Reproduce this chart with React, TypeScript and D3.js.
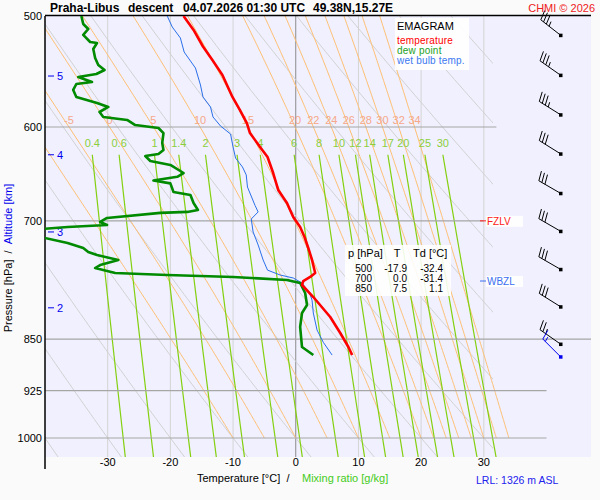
import React from "react";
import * as d3 from "d3";

// sounding: [pressure hPa, value °C]
const temperature: [number, number][] = [
  [500, -17.9], [511.6, -16.3], [525.7, -14.8], [537.5, -13.3], [550.9, -11.7],
  [571.1, -10.1], [583.5, -8.9], [596.1, -7.8], [606.0, -7.3], [620.0, -5.7],
  [630.3, -4.5], [647.1, -3.6], [665.4, -2.8], [679.8, -1.4], [695.6, -0.4],
  [707.1, 0.7], [718.8, 1.4], [731.9, 2.0], [746.5, 2.6], [762.6, 3.1],
  [767.6, 2.3], [772.7, 1.2], [777.8, 1.0], [793.3, 2.8], [819.8, 5.5],
  [841.6, 7.1], [861.2, 8.4], [872.6, 9.0],
];

const dewPoint: [number, number][] = [
  [500, -34.2], [506.6, -33.9], [510.8, -33.1], [515.8, -33.9], [521.8, -32.8],
  [522.7, -31.7], [527.9, -32.3], [535.7, -32.0], [541.9, -31.5], [546.4, -30.5],
  [550.0, -31.8], [552.7, -34.7], [557.3, -32.5], [559.1, -35.0], [564.6, -35.5],
  [571.1, -35.0], [576.8, -31.7], [580.6, -29.9], [585.4, -31.3], [590.2, -30.7],
  [593.1, -26.9], [598.1, -25.6], [601.0, -21.9], [606.0, -21.1], [616.0, -21.3],
  [623.1, -21.1], [627.2, -21.9], [629.3, -24.0], [634.5, -23.2], [638.6, -20.0],
  [647.1, -17.9], [651.1, -18.9], [655.1, -22.7], [658.2, -20.0], [667.6, -19.5],
  [670.9, -16.8], [679.8, -16.3], [687.6, -15.6], [689.8, -17.3], [690.9, -21.6],
  [696.7, -30.1], [701.3, -31.2], [704.8, -30.1], [707.1, -36.4], [709.5, -40.7],
  [718.8, -40.7], [725.9, -36.4], [731.9, -33.9], [736.8, -33.1], [740.5, -31.7],
  [746.5, -28.3], [752.7, -31.2], [756.5, -32.0], [762.6, -28.8], [765.1, -20.5],
  [767.6, -10.0], [771.4, -1.4], [775.2, 0.7], [788.1, 1.5], [803.8, 1.8],
  [814.4, 1.0], [833.3, 0.7], [861.2, 1.0], [872.6, 2.8],
];

const wetBulb: [number, number][] = [
  [500, -20.5], [509.1, -19.7], [518.4, -18.4], [530.5, -17.8], [544.6, -16.0],
  [560.0, -15.2], [571.1, -14.8], [580.6, -13.6], [590.2, -13.2], [599.0, -12.0],
  [607.0, -10.4], [620.0, -10.0], [631.4, -9.6], [640.7, -8.5], [649.1, -7.9],
  [662.2, -7.7], [682.4, -6.5], [689.8, -6.0], [697.9, -7.1], [712.9, -6.8],
  [728.2, -6.0], [746.5, -5.2], [759.0, -4.5], [765.1, -2.5], [768.9, -0.4],
  [775.2, 1.0], [788.1, 2.2], [797.3, 2.6], [814.4, 2.8], [837.5, 3.4],
  [854.6, 4.4], [872.6, 5.8],
];

const isobars = [500, 600, 700, 850, 925, 1000];
const isotherms = [-30, -20, -10, 0, 10, 20, 30];
const dryAdiabatsT1000 = [-40, -30, -20, -10, 0, 10, 20, 30, 40, 50, 60, 70, 80, 90, 100, 110, 120];
const moistAdiabatsThw = [-10, -5, 0, 5, 10, 15, 20, 22, 24, 26, 28, 30, 32, 34];
const mixingRatios = [0.4, 0.6, 1, 1.4, 2, 3, 4, 6, 8, 10, 12, 14, 17, 20, 25, 30];

const altitudeKm = [2, 3, 4, 5];
const altitudeP = [807.5, 712.9, 628.0, 551.8];

const windP = [516, 551, 588, 627, 669, 712, 758, 806, 857, 875];
const windDir = [308, 305, 302, 302, 300, 300, 300, 302, 305, 315];
const windKt = [35, 35, 35, 30, 30, 30, 30, 30, 25, 15];

const tableP = [500, 700, 850];
const tableT = [-17.9, 0.0, 7.5];
const tableTd = [-32.4, -31.4, 1.1];

const freezingLevelP = 700;
const wetBulbZeroP = 772.7;

const FONT = "Liberation Sans, Arial, sans-serif";
const MIX_TOP_P = 628;

// pseudo-adiabatic lapse rate, K per hPa
function moistLapse(p: number, T: number) {
  const Tc = T - 273.15;
  const es = 6.112 * Math.exp((17.67 * Tc) / (Tc + 243.5));
  const rs = (0.622 * es) / (p - es);
  const Lv = 2.501e6;
  return ((287 * T + Lv * rs) / (1005 + (Lv * Lv * rs * 0.622) / (287 * T * T))) / p;
}

function moistAdiabat(thw: number): [number, number][] {
  const pts: [number, number][] = [];
  let T = thw + 273.15;
  let p = 1000;
  const dp = -2;
  pts.push([p, thw]);
  while (p > 480) {
    const k1 = moistLapse(p, T);
    const k2 = moistLapse(p + dp / 2, T + (k1 * dp) / 2);
    T += k2 * dp;
    p += dp;
    pts.push([p, T - 273.15]);
  }
  return pts;
}

function dryAdiabat(t1000: number): [number, number][] {
  const theta = t1000 + 273.15;
  const pts: [number, number][] = [];
  for (let p = 480; p <= 1040; p += 5) pts.push([p, theta * Math.pow(p / 1000, 0.2857) - 273.15]);
  return pts;
}

function mixingTemp(w: number, p: number) {
  const e = (w * p) / (622 + w);
  const l = Math.log(e / 6.112);
  return (243.5 * l) / (17.67 - l);
}

function mixingLine(w: number): [number, number][] {
  const pts: [number, number][] = [];
  for (let p = MIX_TOP_P; p <= 1040; p += 10) pts.push([p, mixingTemp(w, p)]);
  return pts;
}

export default function App() {
  const left = 45, right = 591, top = 16, bottom = 457;
  const x = d3.scaleLinear().domain([-40, 47.1]).range([left, right]);
  const y = d3.scaleLog().domain([500, 1031.7]).range([top, bottom]);
  const line = d3
    .line<[number, number]>()
    .x((d) => x(d[1]))
    .y((d) => y(d[0]));

  const isobarEnd: Record<number, number> = { 600: 32, 700: 30, 850: 47.1, 925: 40, 1000: 40 };

  const barbs = windP.map((p, i) => {
    const cx = 560.5, cy = y(p);
    const a = (windDir[i] * Math.PI) / 180;
    const ux = Math.sin(a), uy = -Math.cos(a);
    const L = 25;
    const ex = cx + ux * L, ey = cy + uy * L;
    const r = (75 * Math.PI) / 180;
    const fx = ux * Math.cos(r) - uy * Math.sin(r);
    const fy = ux * Math.sin(r) + uy * Math.cos(r);
    let kt = windKt[i];
    const segs: string[] = [`M${cx},${cy}L${ex},${ey}`];
    let k = 0;
    while (kt >= 10) {
      const bx = ex - ux * k * 3.5, by = ey - uy * k * 3.5;
      segs.push(`M${bx},${by}L${bx + fx * 10},${by + fy * 10}`);
      kt -= 10;
      k++;
    }
    if (kt >= 5) {
      const bx = ex - ux * k * 3.5, by = ey - uy * k * 3.5;
      segs.push(`M${bx},${by}L${bx + fx * 5},${by + fy * 5}`);
    }
    const color = i === windP.length - 1 ? "#0000ee" : "#000";
    return { d: segs.join(""), cx, cy, color };
  });

  return (
    <svg
      width={600}
      height={500}
      style={{ position: "absolute", left: 0, top: 0, display: "block" }}
      fontFamily={FONT}
    >
      <defs>
        <clipPath id="plot">
          <rect x={left} y={top} width={right - left} height={bottom - top} />
        </clipPath>
        <clipPath id="dry">
          <rect x={left} y={top} width={493 - left} height={bottom - top} />
        </clipPath>
      </defs>
      <rect x={0} y={0} width={600} height={500} fill="#fafafa" />
      <rect x={left} y={top} width={right - left} height={bottom - top} fill="#f0f0ff" />

      {/* isotherms */}
      {isotherms.map((t) => (
        <line
          key={t}
          x1={x(t)}
          x2={x(t)}
          y1={top}
          y2={bottom}
          stroke={t === 0 ? "#8c8c8c" : "#d4d4d4"}
          strokeWidth={1}
        />
      ))}

      {/* dry adiabats */}
      <g clipPath="url(#dry)">
        {dryAdiabatsT1000.map((t) => (
          <path key={t} d={line(dryAdiabat(t)) || ""} fill="none" stroke="#d2d2d2" strokeWidth={1} />
        ))}
      </g>

      {/* moist adiabats */}
      <g clipPath="url(#plot)">
        {moistAdiabatsThw.map((t) => (
          <path key={t} d={line(moistAdiabat(t)) || ""} fill="none" stroke="#ffbf70" strokeWidth={1} />
        ))}
      </g>

      {/* mixing ratio lines */}
      <g clipPath="url(#plot)">
        {mixingRatios.map((w) => (
          <path key={w} d={line(mixingLine(w)) || ""} fill="none" stroke="#84d010" strokeWidth={1.2} />
        ))}
      </g>

      {/* isobars */}
      {isobars.slice(1).map((p) => (
        <line key={p} x1={left} x2={x(isobarEnd[p])} y1={y(p)} y2={y(p)} stroke="#a6a6a6" strokeWidth={1.2} />
      ))}
      <line x1={left} x2={right} y1={top - 0.5} y2={top - 0.5} stroke="#000" strokeWidth={1.5} />
      <line x1={left} x2={left} y1={top} y2={469} stroke="#000" strokeWidth={1.5} />

      {/* moist adiabat labels at 600 hPa */}
      {moistAdiabatsThw.map((t) => {
        const pts = moistAdiabat(t);
        const at600 = pts.find((d) => d[0] <= 600) || pts[pts.length - 1];
        const xx = x(at600[1]);
        if (xx < 55) return null;
        return (
          <text key={t} x={xx} y={124} fontSize={11} fill="#f6a888" textAnchor="middle">
            {t}
          </text>
        );
      })}

      {/* mixing ratio labels */}
      {mixingRatios.map((w) => (
        <text key={w} x={x(mixingTemp(w, MIX_TOP_P))} y={147} fontSize={11} fill="#8ccf3a" textAnchor="middle">
          {w}
        </text>
      ))}

      {/* pressure labels */}
      {isobars.map((p) => (
        <text key={p} x={42} y={y(p) + 4} fontSize={11} fill="#000" textAnchor="end">
          {p}
        </text>
      ))}

      {/* altitude ticks */}
      {altitudeKm.map((km, i) => (
        <g key={km}>
          <line x1={48} x2={54} y1={y(altitudeP[i])} y2={y(altitudeP[i])} stroke="#0000ee" strokeWidth={1} />
          <text x={57} y={y(altitudeP[i]) + 4} fontSize={11} fill="#0000ee">
            {km}
          </text>
        </g>
      ))}

      {/* temperature labels */}
      {isotherms.map((t) => (
        <text key={t} x={x(t)} y={466} fontSize={11} fill="#000" textAnchor="middle">
          {t}
        </text>
      ))}

      {/* legend */}
      <rect x={395} y={18} width={74} height={52} fill="#fff" opacity={0.9} />
      <text x={397} y={30} fontSize={11} fill="#000">EMAGRAM</text>
      <text x={397} y={44} fontSize={10} fill="#ff0000" letterSpacing={0.2}>temperature</text>
      <text x={397} y={54} fontSize={10} fill="#22a022" letterSpacing={0.2}>dew point</text>
      <text x={397} y={64} fontSize={10} fill="#3a78f0" letterSpacing={0.2}>wet bulb temp.</text>

      {/* table */}
      <rect x={345} y={245} width={106} height={51} fill="#fff" opacity={0.88} />
      <text x={348} y={257} fontSize={11}>p [hPa]</text>
      <text x={397} y={257} fontSize={11} textAnchor="middle">T</text>
      <text x={413} y={257} fontSize={11}>Td [°C]</text>
      {tableP.map((p, i) => (
        <g key={p} fontSize={10}>
          <text x={372} y={272 + i * 10} textAnchor="end">{p}</text>
          <text x={407} y={272 + i * 10} textAnchor="end">{tableT[i].toFixed(1)}</text>
          <text x={443} y={272 + i * 10} textAnchor="end">{tableTd[i].toFixed(1)}</text>
        </g>
      ))}

      {/* freezing level / wet bulb zero */}
      <rect x={486} y={y(freezingLevelP) - 5} width={37} height={11} fill="#fff" opacity={0.9} />
      <line x1={480} x2={486} y1={y(freezingLevelP)} y2={y(freezingLevelP)} stroke="#ff2020" />
      <text x={487} y={y(freezingLevelP) + 4} fontSize={10} fill="#ff2020">FZLV</text>
      <rect x={486} y={y(wetBulbZeroP) - 5} width={37} height={11} fill="#fff" opacity={0.9} />
      <line x1={480} x2={486} y1={y(wetBulbZeroP)} y2={y(wetBulbZeroP)} stroke="#3a6ff0" />
      <text x={487} y={y(wetBulbZeroP) + 4} fontSize={10} fill="#3a6ff0">WBZL</text>

      {/* profiles */}
      <g clipPath="url(#plot)">
        <path d={line(wetBulb) || ""} fill="none" stroke="#2a6fe8" strokeWidth={1} />
        <path d={line(dewPoint) || ""} fill="none" stroke="#008a00" strokeWidth={2.6} strokeLinejoin="round" />
        <path d={line(temperature) || ""} fill="none" stroke="#ff0000" strokeWidth={2.6} strokeLinejoin="round" />
      </g>

      {/* wind barbs */}
      {barbs.map((b, i) => (
        <g key={i}>
          <path d={b.d} fill="none" stroke={b.color} strokeWidth={1} />
          <rect x={b.cx - 1.5} y={b.cy - 1.5} width={3.5} height={3.5} fill={b.color} />
        </g>
      ))}

      {/* titles */}
      <g fontSize={12} fontWeight="bold" fill="#000">
        <text x={50} y={12}>Praha-Libus</text>
        <text x={128} y={12}>descent</text>
        <text x={183} y={12}>04.07.2026 01:30 UTC</text>
        <text x={313} y={12}>49.38N,15.27E</text>
      </g>
      <text x={595} y={12} fontSize={11} fill="#ee2020" textAnchor="end">CHMI © 2026</text>

      <text transform="translate(11.5,258) rotate(-90)" fontSize={11} textAnchor="middle">
        <tspan fill="#000">Pressure [hPa]{"\u00a0\u00a0/\u00a0\u00a0"}</tspan>
        <tspan fill="#0000ee">Altitude [km]</tspan>
      </text>
      <text x={197} y={482} fontSize={11} fill="#000">Temperature [°C]{"\u00a0\u00a0/"}</text>
      <text x={302} y={482} fontSize={11} fill="#44cc22">Mixing ratio [g/kg]</text>
      <text x={476} y={484} fontSize={10.5} fill="#2222ee">LRL: 1326 m ASL</text>
    </svg>
  );
}
